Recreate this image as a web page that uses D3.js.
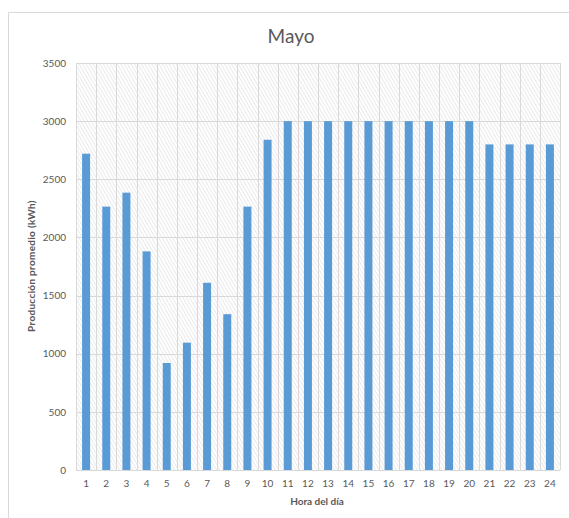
<!DOCTYPE html>
<html>
<head>
<meta charset="utf-8">
<script src="https://cdn.jsdelivr.net/npm/d3@7"></script>
<style>
  html, body { margin: 0; padding: 0; background: #fff; }
  svg { display: block; }
  text { font-family: Lato, "Open Sans", sans-serif; }
</style>
</head>
<body>
<svg id="chart" width="569" height="518"></svg>
<script>
const title = "Mayo";
const hours = ["1","2","3","4","5","6","7","8","9","10","11","12","13","14","15","16","17","18","19","20","21","22","23","24"];
const production = [2720, 2265, 2385, 1880, 920, 1095, 1610, 1340, 2265, 2840, 3000, 3000, 3000, 3000, 3000, 3000, 3000, 3000, 3000, 3000, 2800, 2800, 2800, 2800];
const yTicks = [0, 500, 1000, 1500, 2000, 2500, 3000, 3500];
const yLabel = "Producción promedio (kWh)";
const xLabel = "Hora del día";

const svg = d3.select("#chart");
const W = 569, H = 518;
const plot = { left: 76, right: 560, top: 63, bottom: 470 };

// chart frame
svg.append("path")
  .attr("d", `M8.5,${H} L8.5,12.5 L${W},12.5`)
  .attr("fill", "none").attr("stroke", "#d9d9d9").attr("stroke-width", 1);

// hatch pattern
const defs = svg.append("defs");
const pat = defs.append("pattern")
  .attr("id", "hatch").attr("patternUnits", "userSpaceOnUse")
  .attr("width", 3).attr("height", 3)
  .attr("patternTransform", "rotate(-30)");
pat.append("rect").attr("width", 3).attr("height", 3).attr("fill", "#ffffff");
pat.append("line").attr("x1", 0).attr("y1", 0).attr("x2", 0).attr("y2", 3)
  .attr("stroke", "#dcdcdc").attr("stroke-width", 1.2);

const bx = d3.scaleBand().domain(hours).range([plot.left, plot.right]).padding(0);
const y = d3.scaleLinear().domain([0, 3500]).range([plot.bottom, plot.top]);

svg.append("rect")
  .attr("x", plot.left).attr("y", plot.top)
  .attr("width", plot.right - plot.left).attr("height", plot.bottom - plot.top)
  .attr("fill", "url(#hatch)");

// horizontal gridlines
svg.append("g").selectAll("line").data(yTicks).join("line")
  .attr("x1", plot.left).attr("x2", plot.right)
  .attr("y1", d => Math.round(y(d)) + 0.5).attr("y2", d => Math.round(y(d)) + 0.5)
  .attr("stroke", "#d9d9d9").attr("stroke-width", 1);

// vertical gridlines at category boundaries
const bounds = hours.map(h => bx(h)).concat([plot.right]);
svg.append("g").selectAll("line").data(bounds).join("line")
  .attr("x1", d => Math.round(d) + 0.5).attr("x2", d => Math.round(d) + 0.5)
  .attr("y1", plot.top).attr("y2", plot.bottom)
  .attr("stroke", "#d9d9d9").attr("stroke-width", 1);

// bars
const bw = 8;
svg.append("g").selectAll("rect").data(production).join("rect")
  .attr("x", (d, i) => bx(hours[i]) + bx.bandwidth() / 2 - bw / 2)
  .attr("y", d => y(d))
  .attr("width", bw)
  .attr("height", d => y(0) - y(d))
  .attr("fill", "#5b9bd5");

// y axis
const yAxis = d3.axisLeft(y).tickValues(yTicks).tickFormat(d3.format("d")).tickSize(0).tickPadding(0);
const gy = svg.append("g").attr("transform", `translate(66,0)`).call(yAxis);
gy.select(".domain").remove();
gy.selectAll("text").attr("fill", "#595959").attr("font-size", 10)
  .attr("font-family", "Lato, 'Open Sans', sans-serif");

// x axis
const xAxis = d3.axisBottom(bx).tickSize(0).tickPadding(0);
const gx = svg.append("g").attr("transform", `translate(0,${plot.bottom + 10})`).call(xAxis);
gx.select(".domain").remove();
gx.selectAll("text").attr("fill", "#595959").attr("font-size", 10)
  .attr("font-family", "Lato, 'Open Sans', sans-serif");

// title
svg.append("text").attr("x", 291).attr("y", 43)
  .attr("text-anchor", "middle").attr("font-size", 19).attr("fill", "#595959")
  .text(title);

// axis titles
svg.append("text")
  .attr("transform", `translate(35,266) rotate(-90)`)
  .attr("text-anchor", "middle").attr("font-size", 10).attr("font-weight", "bold")
  .attr("letter-spacing", 0.3)
  .attr("fill", "#595959").text(yLabel);

svg.append("text").attr("x", 317).attr("y", 505)
  .attr("text-anchor", "middle").attr("font-size", 10).attr("font-weight", "bold")
  .attr("fill", "#595959").text(xLabel);
</script>
</body>
</html>
